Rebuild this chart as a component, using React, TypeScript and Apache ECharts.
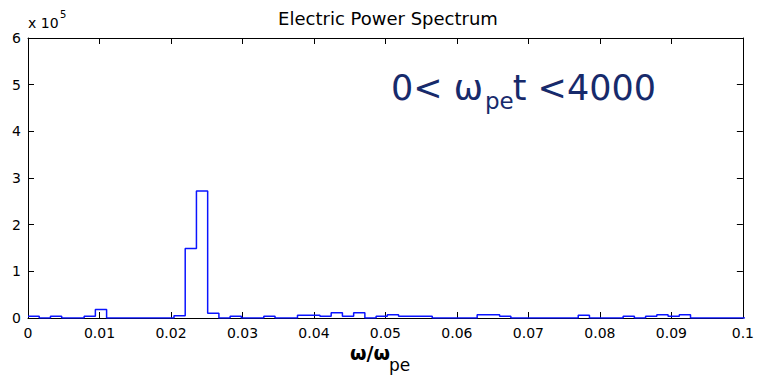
import React, { useEffect, useRef } from "react";
import * as echarts from "echarts";

// Frequency resolution of the spectrum (2π / T, T = 4000)
const BIN_WIDTH = (2 * Math.PI) / 4000;

// Spectrum heights per frequency bin, in units of 10^5
const binHeights = [
  0.04, 0, 0.04, 0, 0, 0.04, 0.18, 0, 0, 0,
  0, 0, 0, 0.05, 1.49, 2.72, 0.1, 0, 0.04, 0,
  0, 0.04, 0, 0, 0.06, 0.06, 0.04, 0.11, 0.04, 0.11,
  0, 0.04, 0.07, 0.04, 0.04, 0.04, 0, 0, 0, 0,
  0.07, 0.07, 0.04, 0, 0, 0, 0, 0, 0, 0.06,
  0, 0, 0, 0.04, 0, 0.04, 0.07, 0.04, 0.07, 0,
  0, 0, 0, 0,
];

const xTickLabels = ["0", "0.01", "0.02", "0.03", "0.04", "0.05", "0.06", "0.07", "0.08", "0.09", "0.1"];
const yTickLabels = ["0", "1", "2", "3", "4", "5", "6"];

const FONT = "DejaVu Sans";

export default function App() {
  const ref = useRef<HTMLDivElement>(null);

  useEffect(() => {
    if (!ref.current) return;
    const chart = echarts.init(ref.current, null, { renderer: "svg" });

    const points: number[][] = binHeights.map((h, k) => [k * BIN_WIDTH, h]);
    points.push([binHeights.length * BIN_WIDTH, binHeights[binHeights.length - 1]]);

    const xBase = {
      type: "value" as const,
      min: 0,
      max: 0.1,
      interval: 0.01,
      splitLine: { show: false },
      axisLine: { show: true, onZero: false, lineStyle: { color: "#000", width: 1 } },
      axisTick: { show: true, inside: true, length: 6, lineStyle: { color: "#000" } },
    };
    const yBase = {
      type: "value" as const,
      min: 0,
      max: 6,
      interval: 1,
      splitLine: { show: false },
      axisLine: { show: true, onZero: false, lineStyle: { color: "#000", width: 1 } },
      axisTick: { show: true, inside: true, length: 6, lineStyle: { color: "#000" } },
    };

    chart.setOption({
      animation: false,
      backgroundColor: "#fff",
      grid: { left: 28, right: 8, top: 38, bottom: 70 },
      xAxis: [
        {
          ...xBase,
          position: "bottom",
          axisLabel: {
            show: true,
            margin: 8,
            color: "#000",
            fontFamily: FONT,
            fontSize: 14,
            formatter: (_v: number, i: number) => xTickLabels[i] ?? "",
          },
        },
        { ...xBase, position: "top", axisLabel: { show: false } },
      ],
      yAxis: [
        {
          ...yBase,
          position: "left",
          axisLabel: {
            show: true,
            margin: 7,
            color: "#000",
            fontFamily: FONT,
            fontSize: 14,
            formatter: (_v: number, i: number) => yTickLabels[i] ?? "",
          },
        },
        { ...yBase, position: "right", axisLabel: { show: false } },
      ],
      series: [
        {
          type: "line",
          xAxisIndex: 0,
          yAxisIndex: 0,
          step: "end",
          data: points,
          showSymbol: false,
          symbol: "none",
          clip: true,
          lineStyle: { color: "#0a14ff", width: 1.5 },
          z: 5,
        },
      ],
      graphic: [
        {
          type: "text",
          x: 388,
          y: 18,
          style: {
            text: "Electric Power Spectrum",
            font: `18px '${FONT}'`,
            fill: "#000",
            align: "center",
            verticalAlign: "middle",
          },
        },
        {
          type: "text",
          x: 28,
          y: 23,
          style: { text: "x 10", font: `14px '${FONT}'`, fill: "#000", align: "left", verticalAlign: "middle" },
        },
        {
          type: "text",
          x: 60,
          y: 14,
          style: { text: "5", font: `10px '${FONT}'`, fill: "#000", align: "left", verticalAlign: "middle" },
        },
        // annotation 0< ω_pe t <4000
        {
          type: "text",
          x: 391,
          y: 88,
          style: { text: "0< ω", font: `35px '${FONT}'`, fill: "#172a6b", align: "left", verticalAlign: "middle" },
        },
        {
          type: "text",
          x: 485,
          y: 101,
          style: { text: "pe", font: `23px '${FONT}'`, fill: "#172a6b", align: "left", verticalAlign: "middle" },
        },
        {
          type: "text",
          x: 656,
          y: 88,
          style: { text: "t <4000", font: `35px '${FONT}'`, fill: "#172a6b", align: "right", verticalAlign: "middle" },
        },
        // x axis label ω/ω_pe
        {
          type: "text",
          x: 350,
          y: 353,
          style: { text: "ω/ω", font: `bold 19px '${FONT}'`, fill: "#000", align: "left", verticalAlign: "middle" },
        },
        {
          type: "text",
          x: 389,
          y: 365,
          style: { text: "pe", font: `17px '${FONT}'`, fill: "#000", align: "left", verticalAlign: "middle" },
        },
      ],
    });

    return () => chart.dispose();
  }, []);

  return (
    <div
      ref={ref}
      style={{ position: "fixed", left: 0, top: 0, width: 757, height: 388, background: "#fff" }}
    />
  );
}
